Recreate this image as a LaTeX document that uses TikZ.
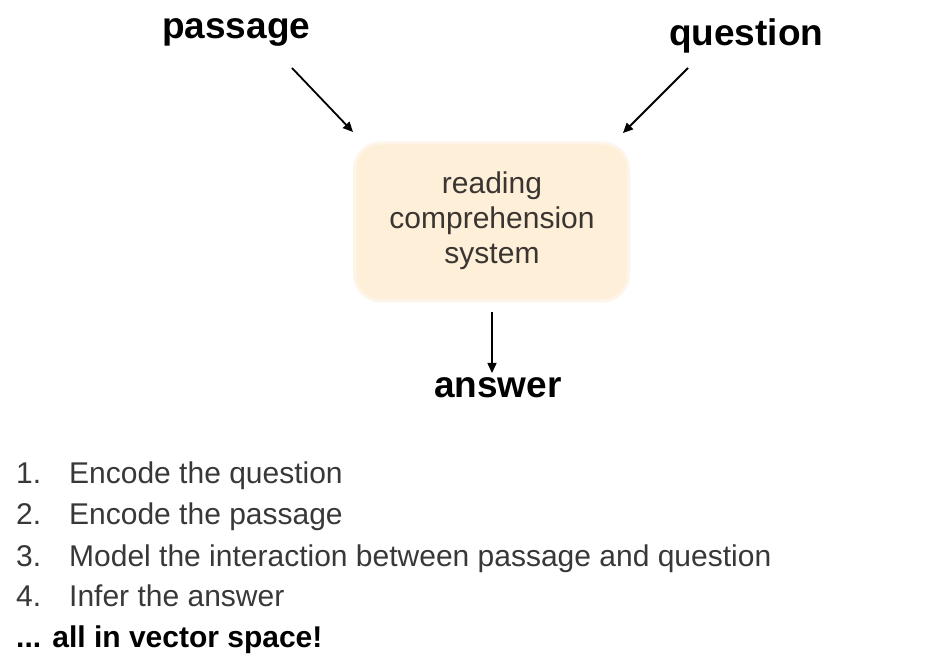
\documentclass[tikz,border=0pt]{standalone}
\usepackage{fontspec}
\setmainfont{Liberation Sans}
\usetikzlibrary{arrows.meta}
\definecolor{boxfill}{HTML}{FEEFD9}
\definecolor{boxedge}{HTML}{FEF5EA}
\definecolor{boxtext}{HTML}{3A3530}
\definecolor{listtext}{HTML}{383838}
\begin{document}
\begin{tikzpicture}[x=1pt,y=-1pt,
  title/.style={font=\fontsize{37}{40}\selectfont\bfseries, text=black, inner sep=0pt, anchor=base west},
  listitem/.style={font=\fontsize{30}{34}\selectfont, text=listtext, inner sep=0pt, anchor=base west},
  flow/.style={draw=black, line width=1.8pt, -{Triangle[length=10pt,width=9pt]}},
  sysbox/.style={fill=boxfill, draw=boxedge, line width=3pt, rounded corners=26pt, minimum width=274pt, minimum height=158pt, inner sep=0pt}]
\useasboundingbox (0,0) rectangle (938,668);
\node[title] (passage) at (162,39) {passage};
\node[title] (question) at (669,46) {question};
\node[sysbox] (sys) at (491.5,222) {};
\node[font=\fontsize{30}{35}\selectfont, text=boxtext, align=center, inner sep=0pt] (systext) at (492,221) {reading\\comprehension\\system};
\node[title] (answer) at (434,398) {answer};
\coordinate (p0) at (292,68);
\coordinate (p1) at (353,132);
\coordinate (q0) at (688,68);
\coordinate (q1) at (623,133);
\coordinate (a0) at (492,312);
\coordinate (a1) at (492,373);
\draw[flow] (p0) -- (p1);
\draw[flow] (q0) -- (q1);
\draw[flow, line width=1.5pt] (a0) -- (a1);
\node[listitem] (n1) at (16,483) {1.};
\node[listitem] (t1) at (69,483) {Encode the question};
\node[listitem] (n2) at (16,524) {2.};
\node[listitem] (t2) at (69,524) {Encode the passage};
\node[listitem] (n3) at (16,566) {3.};
\node[listitem] (t3) at (69,566) {Model the interaction between passage and question};
\node[listitem] (n4) at (16,606) {4.};
\node[listitem] (t4) at (69,606) {Infer the answer};
\node[listitem, font=\fontsize{30}{34}\selectfont\bfseries, text=black] (t5) at (16,647) {... all in vector space!};
\end{tikzpicture}
\end{document}
